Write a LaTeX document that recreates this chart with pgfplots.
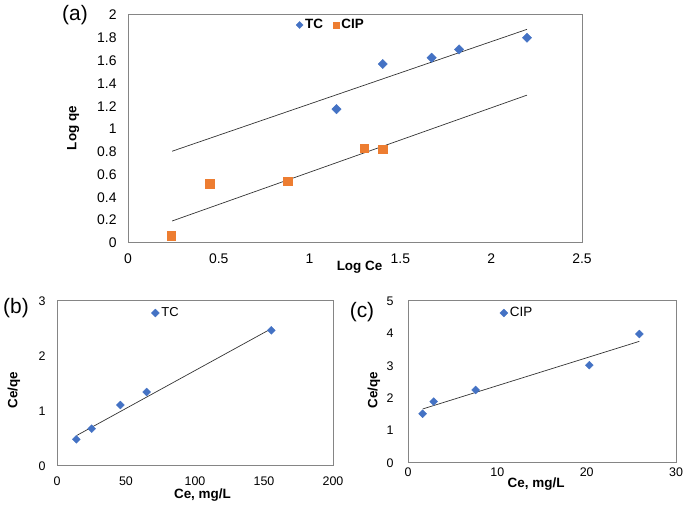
\documentclass[border=0pt]{standalone}
\usepackage{pgfplots}
\pgfplotsset{compat=1.18}
\usepackage{fontspec}
\setmainfont{Liberation Sans}
\definecolor{tcblue}{HTML}{4472C4}
\definecolor{ciporange}{HTML}{ED7D31}
\definecolor{framegray}{HTML}{858585}

\pgfplotsset{
  panel/.style={
    scale only axis,
    axis line style={framegray, line width=1pt},
    major tick length=0pt,
    /pgf/number format/assume math mode=true,
    legend cell align=left,
    legend style={draw=none, fill=none, anchor=center, inner sep=0pt,
      /tikz/every even column/.append style={column sep=5pt}},
  },
  tcmark/.style={only marks, mark=square*, color=tcblue, mark options={rotate=45}},
  cipmark/.style={only marks, mark=square*, color=ciporange},
  fitline/.style={no marks, color=black!80, line width=0.7pt, forget plot},
}

\begin{document}
\begin{tikzpicture}[x=1bp, y=1bp]
\path[use as bounding box] (0,0) rectangle (685,509);

% (a) Freundlich
\begin{axis}[panel,
  at={(128bp,266bp)}, anchor=south west,
  width=454bp, height=228bp,
  xmin=0, xmax=2.5, ymin=0, ymax=2,
  xtick={0,0.5,1,1.5,2,2.5},
  ytick={0,0.2,0.4,0.6,0.8,1,1.2,1.4,1.6,1.8,2},
  yticklabels={0,0.2,0.4,0.6,0.8,1,1.2,1.4,1.6,1.8,2},
  ticklabel style={font=\fontsize{14}{16}\selectfont},
  xticklabel style={yshift=-7pt},
  yticklabel style={xshift=-8pt},
  xlabel={\textbf{Log Ce}}, ylabel={\textbf{Log qe}},
  label style={font=\fontsize{13.5}{16}\selectfont},
  xlabel style={at={(axis description cs:0.51,-0.105)}, anchor=center},
  ylabel style={at={(axis description cs:-0.121,0.504)}, anchor=center},
  legend columns=2,
  legend image post style={scale=0.75},
  legend style={at={(axis description cs:0.447,0.956)}, font=\bfseries\fontsize{13.5}{15}\selectfont,
    /tikz/every even column/.append style={column sep=8pt}},
]
\addplot[tcmark, mark size=3.3pt] coordinates {
  (1.148,1.174) (1.403,1.570) (1.672,1.625) (1.823,1.698) (2.197,1.800)};
\addlegendentry{TC}
\addplot[cipmark, mark size=4.3pt] coordinates {
  (0.238,0.064) (0.451,0.518) (0.879,0.542) (1.301,0.832) (1.403,0.823)};
\addlegendentry{CIP}
\addplot[fitline] coordinates {(0.243,0.805) (2.197,1.874)};
\addplot[fitline] coordinates {(0.243,0.193) (2.197,1.297)};
\end{axis}

% (b) Langmuir TC
\begin{axis}[panel,
  at={(57bp,43bp)}, anchor=south west,
  width=276bp, height=165bp,
  xmin=0, xmax=200, ymin=0, ymax=3,
  xtick={0,50,100,150,200}, ytick={0,1,2,3},
  ticklabel style={font=\fontsize{12.5}{14}\selectfont},
  xticklabel style={yshift=-7pt},
  yticklabel style={xshift=-8pt},
  xlabel={\textbf{Ce, mg/L}}, ylabel={\textbf{Ce/qe}},
  label style={font=\fontsize{13.5}{16}\selectfont},
  xlabel style={at={(axis description cs:0.527,-0.176)}, anchor=center},
  ylabel style={at={(axis description cs:-0.156,0.46)}, anchor=center},
  legend style={at={(axis description cs:0.395,0.927)}, font=\fontsize{13}{15}\selectfont},
]
\addplot[tcmark, mark size=2.8pt] coordinates {
  (14.0,0.485) (25.1,0.679) (45.9,1.109) (65.0,1.345) (155.3,2.467)};
\addlegendentry{TC}
\addplot[fitline] coordinates {(14.5,0.558) (155.3,2.497)};
\end{axis}

% (c) Langmuir CIP
\begin{axis}[panel,
  at={(408bp,46bp)}, anchor=south west,
  width=268bp, height=162bp,
  xmin=0, xmax=30, ymin=0, ymax=5,
  xtick={0,10,20,30}, ytick={0,1,2,3,4,5},
  ticklabel style={font=\fontsize{12.5}{14}\selectfont},
  xticklabel style={yshift=-1pt},
  yticklabel style={xshift=-11pt},
  xlabel={\textbf{Ce, mg/L}}, ylabel={\textbf{Ce/qe}},
  label style={font=\fontsize{13.5}{16}\selectfont},
  xlabel style={at={(axis description cs:0.478,-0.13)}, anchor=center},
  ylabel style={at={(axis description cs:-0.127,0.45)}, anchor=center},
  legend style={at={(axis description cs:0.407,0.926)}, font=\fontsize{13.5}{15}\selectfont},
]
\addplot[tcmark, mark size=2.8pt] coordinates {
  (1.64,1.52) (2.87,1.895) (7.57,2.255) (20.3,3.02) (25.9,3.98)};
\addlegendentry{CIP}
\addplot[fitline] coordinates {(1.64,1.667) (25.9,3.755)};
\end{axis}

\node[font=\fontsize{21}{24}\selectfont] at (75,494) {(a)};
\node[font=\fontsize{21}{24}\selectfont] at (16,201) {(b)};
\node[font=\fontsize{21}{24}\selectfont] at (362,197) {(c)};
\end{tikzpicture}
\end{document}
